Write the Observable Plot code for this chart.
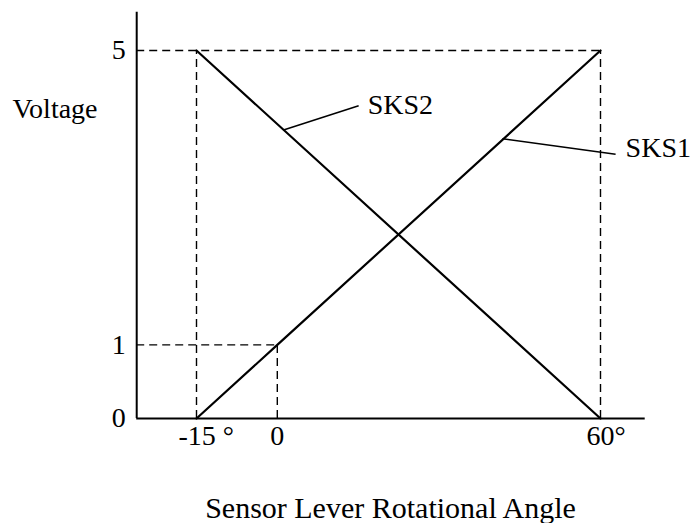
<!DOCTYPE html>
<html>
<head>
<meta charset="utf-8">
<script src="https://cdn.jsdelivr.net/npm/d3@7"></script>
<script src="https://cdn.jsdelivr.net/npm/@observablehq/plot@0.6"></script>
<style>
  html, body { margin: 0; padding: 0; background: #fff; }
  #chart svg { display: block; }
</style>
</head>
<body>
<div id="chart"></div>
<script>
// Angles (degrees) and voltages
const angles = [-15, 0, 60];
const angleLabels = ["-15 °", "0", "60°"];
const voltTicks = [0, 1, 5];
const voltLabels = ["0", "1", "5"];

// Sensor outputs: voltage vs angle
const sks1Angle = [-15, 0, 60];
const sks1Volt = [0, 1, 5];
const sks2Angle = [-15, 60];
const sks2Volt = [5, 0];

// Axis extents (data units)
const xAxisExtent = [-26.1, 68.3];
const yAxisExtent = [0, 5.52];

// Annotation leaders: [from angle, from volt, to angle, to volt]
const sks1Leader = [41.8, 3.8, 62.8, 3.59];
const sks2Leader = [1.15, 3.92, 15.1, 4.25];
const seriesNames = ["SKS1", "SKS2"];

const sks1 = sks1Angle.map((a, i) => ({a, v: sks1Volt[i]}));
const sks2 = sks2Angle.map((a, i) => ({a, v: sks2Volt[i]}));

const font = "Liberation Serif, Times New Roman, serif";
const fs = 28;
const dash = {stroke: "#000", strokeWidth: 1.4, strokeDasharray: "8,5"};

const chart = Plot.plot({
  width: 692,
  height: 523,
  marginTop: 0, marginRight: 0, marginBottom: 0, marginLeft: 0,
  style: {fontFamily: font, background: "#fff"},
  x: {domain: [-15, 60], range: [196, 600], axis: null},
  y: {domain: [0, 5], range: [418, 50], axis: null},
  marks: [
    // dashed guides
    Plot.ruleY([5], {x1: xAxisExtent[0], x2: 60, ...dash}),
    Plot.ruleX([60], {y1: 0, y2: 5, ...dash}),
    Plot.ruleX([-15], {y1: 0, y2: 5, ...dash}),
    Plot.ruleY([1], {x1: xAxisExtent[0], x2: 0, ...dash}),
    Plot.ruleX([0], {y1: 0, y2: 1, ...dash}),
    // axes
    Plot.ruleY([0], {x1: xAxisExtent[0], x2: xAxisExtent[1], stroke: "#000", strokeWidth: 2}),
    Plot.ruleX([xAxisExtent[0]], {y1: yAxisExtent[0], y2: yAxisExtent[1], stroke: "#000", strokeWidth: 2}),
    // sensor lines
    Plot.line(sks1, {x: "a", y: "v", stroke: "#000", strokeWidth: 2.2}),
    Plot.line(sks2, {x: "a", y: "v", stroke: "#000", strokeWidth: 2.2}),
    // leaders
    Plot.link([sks1Leader], {x1: d => d[0], y1: d => d[1], x2: d => d[2], y2: d => d[3], stroke: "#000", strokeWidth: 1.5}),
    Plot.link([sks2Leader], {x1: d => d[0], y1: d => d[1], x2: d => d[2], y2: d => d[3], stroke: "#000", strokeWidth: 1.5}),
    Plot.text([sks1Leader], {x: d => d[2], y: d => d[3], text: () => seriesNames[0], textAnchor: "start", dx: 10, dy: -6, fontSize: fs, fill: "#000"}),
    Plot.text([sks2Leader], {x: d => d[2], y: d => d[3], text: () => seriesNames[1], textAnchor: "start", dx: 9, dy: -1, fontSize: fs, fill: "#000"}),
    // y tick labels
    Plot.text(voltTicks, {x: xAxisExtent[0], y: d => d, text: (d, i) => voltLabels[i], textAnchor: "end", dx: -11, fontSize: fs, fill: "#000"}),
    // x tick labels
    Plot.text([angles[0]], {x: d => d, y: 0, text: () => angleLabels[0], textAnchor: "start", dx: -18, dy: 18, fontSize: fs, fill: "#000"}),
    Plot.text([angles[1]], {x: d => d, y: 0, text: () => angleLabels[1], textAnchor: "middle", dy: 18, fontSize: fs, fill: "#000"}),
    Plot.text([angles[2]], {x: d => d, y: 0, text: () => angleLabels[2], textAnchor: "start", dx: -14, dy: 18, fontSize: fs, fill: "#000"}),
    // axis titles
    Plot.text(["Voltage"], {frameAnchor: "top-left", dx: 12, dy: 109, textAnchor: "start", lineAnchor: "middle", fontSize: fs, fill: "#000"}),
    Plot.text(["Sensor Lever Rotational Angle"], {frameAnchor: "bottom", dx: 44, dy: -15, lineAnchor: "middle", fontSize: 30, fill: "#000"})
  ]
});
document.getElementById("chart").appendChild(chart);
</script>
</body>
</html>
